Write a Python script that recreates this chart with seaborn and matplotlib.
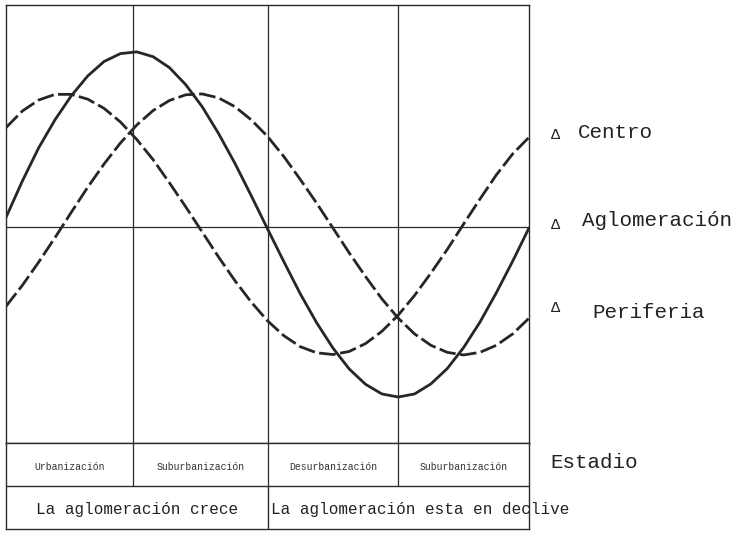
import numpy as np
import pandas as pd
import matplotlib
matplotlib.use("Agg")
import matplotlib.pyplot as plt
import seaborn as sns

# Values (x: 0..4 across the four stages, y: 0..100 plot height)
x_vals = np.linspace(0, 4, 33)
aglomeracion = [51.5, 59.8, 67.4, 73.8, 79.3, 83.8, 87.1, 88.9, 89.3, 88.2, 85.7, 81.8, 76.8,
                70.7, 63.9, 56.5, 48.9, 41.4, 34.1, 27.5, 21.7, 16.9, 13.4, 11.2, 10.5, 11.2,
                13.5, 17.0, 21.8, 27.6, 34.3, 41.5, 49.1]
centro = [72.0, 75.8, 78.3, 79.6, 79.6, 78.5, 76.4, 73.3, 69.3, 64.7, 59.4, 53.9, 48.2,
          42.5, 37.1, 32.2, 27.9, 24.5, 22.0, 20.6, 20.2, 20.9, 22.7, 25.5, 29.2, 33.7,
          38.8, 44.2, 50.0, 55.7, 61.2, 66.0, 69.8]
periferia = [31.2, 36.0, 41.3, 46.9, 52.7, 58.4, 63.7, 68.5, 72.6, 75.9, 78.2, 79.5, 79.7,
             78.8, 76.8, 73.8, 70.0, 65.4, 60.2, 54.8, 49.1, 43.4, 38.0, 32.9, 28.5, 24.9,
             22.3, 20.7, 20.1, 20.7, 22.3, 24.9, 28.5]

series_names = ["Centro", "Aglomeración", "Periferia"]
stage_bounds = [0, 0.97, 2.0, 3.0, 4.0]
stage_labels = ["Urbanización", "Suburbanización", "Desurbanización", "Suburbanización"]
phase_labels = ["La aglomeración crece", "La aglomeración esta en declive"]
mid_level = 49.3

df = pd.concat([
    pd.DataFrame({"x": x_vals, "y": centro, "serie": "Centro"}),
    pd.DataFrame({"x": x_vals, "y": aglomeracion, "serie": "Aglomeración"}),
    pd.DataFrame({"x": x_vals, "y": periferia, "serie": "Periferia"}),
])

sns.set_theme(style="white")
plt.rcParams['font.family'] = ['Liberation Mono', 'DejaVu Sans']

W, H = 746, 533
fig = plt.figure(figsize=(W / 100, H / 100), dpi=100)
line_col = "#2a2a2a"

# main panel with the curves
ax = fig.add_axes([6 / W, 1 - 443 / H, 523 / W, 438 / H])
sns.lineplot(data=df, x="x", y="y", style="serie", ax=ax, color="#262626",
             dashes={"Centro": (6, 1.6), "Aglomeración": "", "Periferia": (6, 1.6)},
             linewidth=2.0, estimator=None, sort=False, legend=False)
ax.set_xlim(0, 4)
ax.set_ylim(0, 100)
ax.axhline(mid_level, color=line_col, lw=0.9)
for b in stage_bounds[1:-1]:
    ax.axvline(b, color=line_col, lw=0.9)
ax.set_xticks([])
ax.set_yticks([])
ax.set_xlabel("")
ax.set_ylabel("")
for sp in ax.spines.values():
    sp.set_color(line_col)
    sp.set_linewidth(1.0)

# table with the stages below
tab = fig.add_axes([6 / W, 1 - 529 / H, 523 / W, 86 / H])
tab.set_xlim(0, 4)
tab.set_ylim(0, 2)
tab.axhline(1, color=line_col, lw=1.0)
for b in stage_bounds[1:-1]:
    tab.plot([b, b], [1, 2], color=line_col, lw=0.9)
tab.plot([2.0, 2.0], [0, 1], color=line_col, lw=1.0)
for i, lab in enumerate(stage_labels):
    cx = (stage_bounds[i] + stage_bounds[i + 1]) / 2
    tab.text(cx, 1.45, lab, ha="center", va="center", fontsize=7, color="#333333")
tab.text(1.0, 0.45, phase_labels[0], ha="center", va="center", fontsize=11.5, color="#222222")
tab.text(2.03, 0.45, phase_labels[1], ha="left", va="center", fontsize=11.5,
         color="#222222", clip_on=False)
tab.set_xticks([])
tab.set_yticks([])
for sp in tab.spines.values():
    sp.set_color(line_col)
    sp.set_linewidth(1.0)

# labels on the right
label_y = {"Centro": 133, "Aglomeración": 220, "Periferia": 312}
label_x = {"Centro": 578, "Aglomeración": 582, "Periferia": 592}
delta_y = {"Centro": 135, "Aglomeración": 225, "Periferia": 308}
for name in series_names:
    fig.text(555 / W, 1 - delta_y[name] / H, "Δ", ha="center", va="center",
             fontsize=11, color="#222222")
    fig.text(label_x[name] / W, 1 - label_y[name] / H, name, ha="left", va="center",
             fontsize=15, color="#222222")
fig.text(550 / W, 1 - 462 / H, "Estadio", ha="left", va="center", fontsize=15, color="#222222")

fig.savefig("out.png", dpi=100, facecolor="white")
